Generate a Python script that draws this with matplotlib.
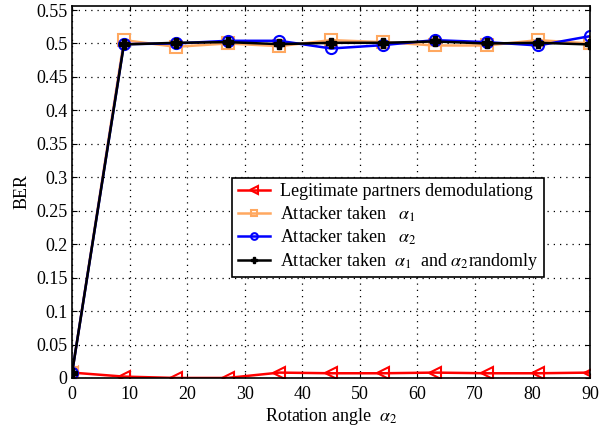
import matplotlib
matplotlib.use("Agg")
import matplotlib.pyplot as plt

plt.rcParams['font.family'] = ['Liberation Serif', 'DejaVu Serif']
plt.rcParams['mathtext.fontset'] = 'stix'

angle = [0, 9, 18, 27, 36, 45, 54, 63, 72, 81, 90]
ber_legit = [0.008, 0.002, 0.0, 0.0, 0.008, 0.007, 0.007, 0.008, 0.007, 0.007, 0.008]
ber_alpha1 = [0.008, 0.505, 0.495, 0.500, 0.496, 0.505, 0.502, 0.497, 0.497, 0.505, 0.500]
ber_alpha2 = [0.008, 0.499, 0.500, 0.504, 0.504, 0.4925, 0.4975, 0.505, 0.502, 0.497, 0.511]
ber_random = [0.008, 0.4985, 0.501, 0.502, 0.499, 0.501, 0.501, 0.503, 0.500, 0.501, 0.4985]

fig = plt.figure(figsize=(6.01, 4.29), dpi=100)
ax = fig.add_axes([0.12, 0.119, 0.862, 0.867])

ax.plot(angle, ber_legit, color='red', marker='<', mfc='none', ms=9, mew=1.5, lw=1.8,
        label='Legitimate partners demodulationg')
ax.plot(angle, ber_alpha1, color='#FFA860', marker='s', mfc='none', ms=8, mew=1.5, lw=1.8,
        label=r'Attacker taken   $\alpha_1$')
ax.plot(angle, ber_alpha2, color='blue', marker='o', mfc='none', ms=8, mew=1.5, lw=1.8,
        label=r'Attacker taken   $\alpha_2$')
ax.plot(angle, ber_random, color='black', marker='P', ms=7, lw=1.8,
        label=r'Attacker taken  $\alpha_1$  and $\alpha_2$randomly')

ax.set_xlim(0, 90)
ax.set_ylim(0, 0.556)
ax.set_xticks(range(0, 91, 10))
ax.set_yticks([0, 0.05, 0.1, 0.15, 0.2, 0.25, 0.3, 0.35, 0.4, 0.45, 0.5, 0.55])
ax.set_yticklabels(['0', '0.05', '0.1', '0.15', '0.2', '0.25', '0.3', '0.35', '0.4', '0.45', '0.5', '0.55'])
ax.tick_params(direction='in', labelsize=13, top=True, right=True)
ax.tick_params(axis='x', pad=6)
ax.grid(True, linestyle=(0, (1, 4)), color='black', lw=0.9)
for s in ax.spines.values():
    s.set_linewidth(1.2)

ax.set_xlabel(r'Rotation angle  $\alpha_2$', fontsize=13, labelpad=2)
ax.set_ylabel('BER', fontsize=13)

leg = ax.legend(loc='upper left', bbox_to_anchor=(0.309, 0.538), fontsize=13,
                fancybox=False, edgecolor='black', framealpha=1, markerscale=0.6,
                handlelength=1.8, handletextpad=0.55, borderaxespad=0, labelspacing=0.22,
                borderpad=0.3)
leg.get_frame().set_linewidth(1.2)

fig.savefig('out.png', dpi=100)
